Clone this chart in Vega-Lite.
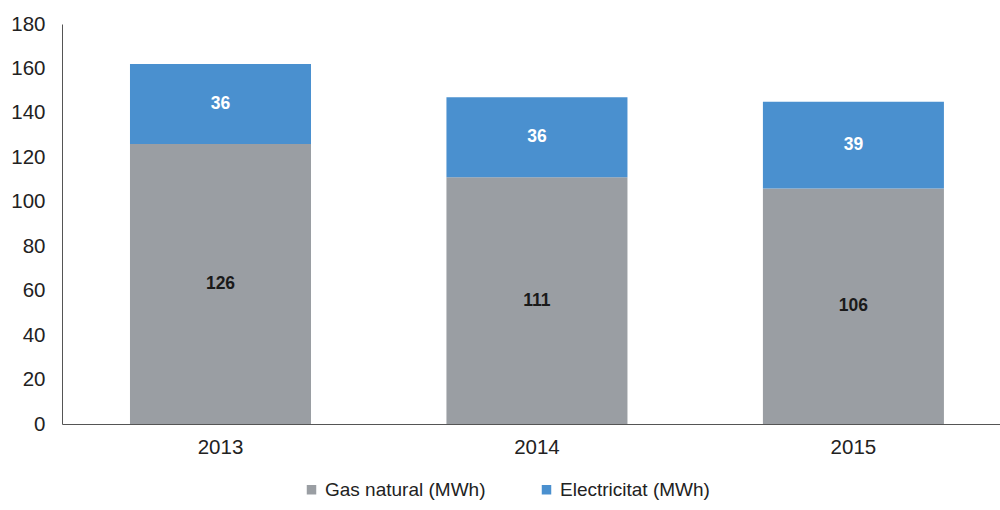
{
  "$schema": "https://vega.github.io/schema/vega-lite/v6.json",
  "width": 938,
  "height": 400,
  "autosize": {"type": "none"},
  "padding": {"left": 62, "top": 24, "right": 0, "bottom": 86},
  "background": "white",
  "config": {
    "view": {"stroke": null},
    "font": "Liberation Sans",
    "axis": {"labelFont": "Liberation Sans", "labelColor": "#222", "labelFontSize": 20.5}
  },
  "data": {
    "values": [
      {"year": "2013", "source": "Gas natural (MWh)", "ord": 1, "value": 126},
      {"year": "2013", "source": "Electricitat (MWh)", "ord": 2, "value": 36},
      {"year": "2014", "source": "Gas natural (MWh)", "ord": 1, "value": 111},
      {"year": "2014", "source": "Electricitat (MWh)", "ord": 2, "value": 36},
      {"year": "2015", "source": "Gas natural (MWh)", "ord": 1, "value": 106},
      {"year": "2015", "source": "Electricitat (MWh)", "ord": 2, "value": 39}
    ]
  },
  "encoding": {
    "x": {
      "field": "year", "type": "nominal", "title": null,
      "scale": {"paddingInner": 0.428, "paddingOuter": 0.196, "align": 0.548},
      "axis": {"labelAngle": 0, "ticks": false, "domainColor": "#555", "labelPadding": 13}
    },
    "y": {
      "field": "value", "type": "quantitative", "aggregate": "sum", "stack": "zero", "title": null,
      "scale": {"domain": [0, 180], "nice": false},
      "axis": {"values": [0,20,40,60,80,100,120,140,160,180], "grid": false, "ticks": false, "domainColor": "#555", "labelPadding": 17}
    },
    "order": {"field": "ord", "type": "quantitative"}
  },
  "layer": [
    {
      "mark": {"type": "bar"},
      "encoding": {
        "color": {
          "field": "source", "type": "nominal",
          "scale": {"domain": ["Gas natural (MWh)", "Electricitat (MWh)"], "range": ["#9a9ea3", "#4a90cf"]},
          "legend": {
            "title": null, "orient": "none", "direction": "horizontal",
            "legendX": 240, "legendY": 456,
            "symbolType": "square", "symbolSize": 90, "symbolStrokeWidth": 0,
            "labelFontSize": 19, "labelColor": "#222", "labelFont": "Liberation Sans", "labelLimit": 400,
            "columnPadding": 51, "symbolOffset": 0, "labelOffset": 4
          }
        }
      }
    },
    {
      "mark": {"type": "text", "fontSize": 17.5, "fontWeight": "bold", "font": "Liberation Sans"},
      "encoding": {
        "y": {"field": "value", "type": "quantitative", "aggregate": "sum", "stack": "zero", "bandPosition": 0.5},
        "text": {"field": "value", "type": "quantitative", "aggregate": "sum"},
        "detail": {"field": "source", "type": "nominal"},
        "color": {
          "condition": {"test": "datum.source === 'Electricitat (MWh)'", "value": "#ffffff"},
          "value": "#1a1a1a"
        }
      }
    }
  ]
}
